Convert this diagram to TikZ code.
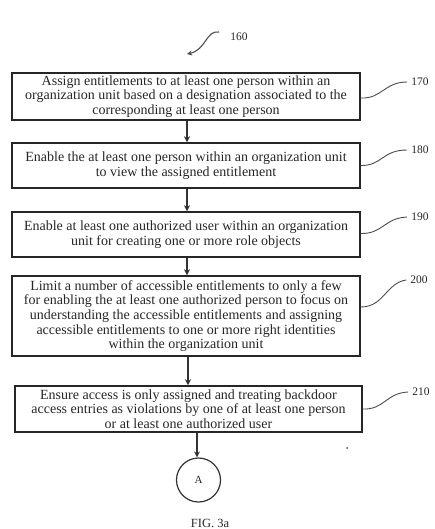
\documentclass[tikz,border=0pt]{standalone}
\usepackage{fontspec}
\setmainfont{Liberation Serif}
\usetikzlibrary{arrows.meta}
\begin{document}
\begin{tikzpicture}[x=1pt,y=-1pt,
  stepbox/.style={draw=black!85,line width=1.5pt,minimum width=348pt,
    inner sep=0pt,align=center,text=black!85,
    font=\fontsize{14}{14.6}\selectfont},
  flowarrow/.style={draw=black!80,line width=1.8pt,
    -{Stealth[length=6pt,width=6pt]}},
  refline/.style={draw=black!70,line width=0.9pt},
  reflabel/.style={text=black!85,inner sep=0pt,font=\fontsize{11.5}{13}\selectfont}]
\useasboundingbox (0,0) rectangle (434,529);

% process steps
\node[stepbox,minimum height=47pt] (b170) at (186,96.5)
  {Assign entitlements to at least one person within an\\
   organization unit based on a designation associated to the\\
   corresponding at least one person};
\node[stepbox,minimum height=45pt] (b180) at (186,165.5)
  {Enable the at least one person within an organization unit\\
   to view the assigned entitlement};
\node[stepbox,minimum height=45pt] (b190) at (186,234.5)
  {Enable at least one authorized user within an organization\\
   unit for creating one or more role objects};
\node[stepbox,minimum height=80pt] (b200) at (186,316)
  {Limit a number of accessible entitlements to only a few\\
   for enabling the at least one authorized person to focus on\\
   understanding the accessible entitlements and assigning\\
   accessible entitlements to one or more right identities\\
   within the organization unit};
\node[stepbox,minimum height=46pt,minimum width=347pt] (b210) at (188.5,409)
  {Ensure access is only assigned and treating backdoor\\
   access entries as violations by one of at least one person\\
   or at least one authorized user};

% off-page connector
\node[draw=black!80,line width=1.2pt,circle,minimum size=44pt,inner sep=0pt,
  text=black!85,font=\fontsize{11}{13}\selectfont] (A) at (198.5,480) {A};

% flow arrows
\draw[flowarrow] (b170.south -| 187,0) -- (b180.north -| 187,0);
\draw[flowarrow] (b180.south -| 187,0) -- (b190.north -| 187,0);
\draw[flowarrow] (b190.south -| 187,0) -- (b200.north -| 187,0);
\draw[flowarrow] (b200.south -| 188,0) -- (b210.north -| 188,0);
\draw[flowarrow] (b210.south -| 197,0) -- (A.north -| 197,0);

% figure reference 160
\node[reflabel] (l160) at (239,37) {160};
\coordinate (s160) at (219,32);
\coordinate (e160) at (187,54);
\draw[refline,line width=1.1pt,-{Stealth[length=5pt,width=5pt]}]
  (s160) .. controls (206,30) and (206,50) .. (e160);

% step reference numerals
\node[reflabel] (l170) at (420,82) {170};
\node[reflabel] (l180) at (420,150) {180};
\node[reflabel] (l190) at (420,217) {190};
\node[reflabel] (l200) at (419,280) {200};
\node[reflabel] (l210) at (421,392) {210};

\draw[refline] ([yshift=-1.5pt]b170.east) .. controls (382,99) and (384,82) .. ([xshift=-4pt]l170.west);
\draw[refline] (b180.east) .. controls (382,166) and (382,150) .. ([xshift=-4pt]l180.west);
\draw[refline] ([yshift=1pt]b190.east) .. controls (383,234) and (384,218) .. ([xshift=-4pt]l190.west);
\draw[refline] ([yshift=9pt]b200.east) .. controls (384,307) and (386,283) .. ([xshift=-4pt]l200.west);
\draw[refline] (b210.east) .. controls (384,410) and (386,393) .. ([xshift=-4pt]l210.west);

% stray mark
\fill[black!70] (347,448) circle (1pt);

% caption
\node[text=black!85,font=\fontsize{12.5}{14}\selectfont] (cap) at (210,523) {FIG. 3a};
\end{tikzpicture}
\end{document}
